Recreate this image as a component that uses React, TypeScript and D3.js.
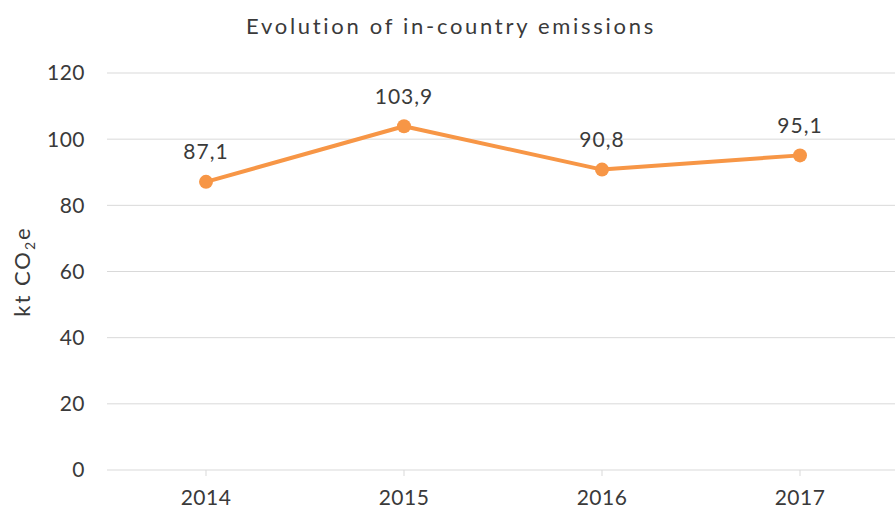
import React, { useEffect, useRef } from "react";
import * as d3 from "d3";

const years = ["2014", "2015", "2016", "2017"];
const emissions = [87.1, 103.9, 90.8, 95.1];
const yTicks = [0, 20, 40, 60, 80, 100, 120];

const App = () => {
  const svgRef = useRef<SVGSVGElement | null>(null);

  useEffect(() => {
    const width = 895;
    const height = 509;
    const margin = { top: 73, right: -4, bottom: 39, left: 107 };
    const font = "'Lato', 'Open Sans', sans-serif";
    const ink = "#3a3a3a";

    const svg = d3.select(svgRef.current).attr("width", width).attr("height", height);
    svg.selectAll("*").remove();

    const x = d3
      .scaleBand()
      .domain(years)
      .range([margin.left, width - margin.right]);
    const y = d3
      .scaleLinear()
      .domain([0, 120])
      .range([height - margin.bottom, margin.top]);

    // gridlines
    svg
      .append("g")
      .selectAll("line")
      .data(yTicks)
      .enter()
      .append("line")
      .attr("x1", margin.left)
      .attr("x2", width)
      .attr("y1", (d) => y(d))
      .attr("y2", (d) => y(d))
      .attr("stroke", "#d9d9d9")
      .attr("stroke-width", 1);

    // y tick labels
    svg
      .append("g")
      .selectAll("text")
      .data(yTicks)
      .enter()
      .append("text")
      .attr("x", 85)
      .attr("y", (d) => y(d))
      .attr("dy", "0.35em")
      .attr("text-anchor", "end")
      .style("font-family", font)
      .style("font-size", "21px")
      .style("letter-spacing", "0.5px")
      .attr("fill", ink)
      .text((d) => d);

    // x axis ticks and labels
    const xc = (d: string) => (x(d) as number) + x.bandwidth() / 2;
    svg
      .append("g")
      .selectAll("line")
      .data(years)
      .enter()
      .append("line")
      .attr("x1", xc)
      .attr("x2", xc)
      .attr("y1", y(0))
      .attr("y2", y(0) + 6)
      .attr("stroke", "#d9d9d9");

    svg
      .append("g")
      .selectAll("text")
      .data(years)
      .enter()
      .append("text")
      .attr("x", xc)
      .attr("y", y(0) + 28)
      .attr("dy", "0.35em")
      .attr("text-anchor", "middle")
      .style("font-family", font)
      .style("font-size", "21px")
      .style("letter-spacing", "0.5px")
      .attr("fill", ink)
      .text((d) => d);

    // line
    const points = years.map((yr, i) => ({ yr, v: emissions[i] }));
    const line = d3
      .line<{ yr: string; v: number }>()
      .x((d) => xc(d.yr))
      .y((d) => y(d.v));

    svg
      .append("path")
      .datum(points)
      .attr("fill", "none")
      .attr("stroke", "#f79646")
      .attr("stroke-width", 4)
      .attr("stroke-linejoin", "round")
      .attr("d", line);

    svg
      .selectAll(".dot")
      .data(points)
      .enter()
      .append("circle")
      .attr("class", "dot")
      .attr("cx", (d) => xc(d.yr))
      .attr("cy", (d) => y(d.v))
      .attr("r", 7)
      .attr("fill", "#f79646");

    svg
      .selectAll(".lbl")
      .data(points)
      .enter()
      .append("text")
      .attr("class", "lbl")
      .attr("x", (d) => xc(d.yr))
      .attr("y", (d) => y(d.v) - 30)
      .attr("dy", "0.35em")
      .attr("text-anchor", "middle")
      .style("font-family", font)
      .style("font-size", "21px")
      .style("letter-spacing", "1px")
      .attr("fill", ink)
      .text((d) => d3.format(".1f")(d.v).replace(".", ","));

    // title
    svg
      .append("text")
      .attr("x", 451)
      .attr("y", 26)
      .attr("dy", "0.35em")
      .attr("text-anchor", "middle")
      .style("font-family", font)
      .style("font-size", "22px")
      .style("letter-spacing", "2.7px")
      .attr("fill", ink)
      .text("Evolution of in-country emissions");

    // y axis title
    const yt = svg
      .append("text")
      .attr("transform", `translate(30,${(y(0) + y(120)) / 2}) rotate(-90)`)
      .attr("text-anchor", "middle")
      .style("font-family", font)
      .style("font-size", "22px")
      .style("letter-spacing", "2px")
      .attr("fill", ink);
    yt.append("tspan").text("kt CO");
    yt.append("tspan").attr("dy", 5).style("font-size", "14px").text("2");
    yt.append("tspan").attr("dy", -5).text("e");
  }, []);

  return (
    <div style={{ position: "absolute", left: 0, top: 0 }}>
      <svg ref={svgRef}></svg>
    </div>
  );
};

export default App;
